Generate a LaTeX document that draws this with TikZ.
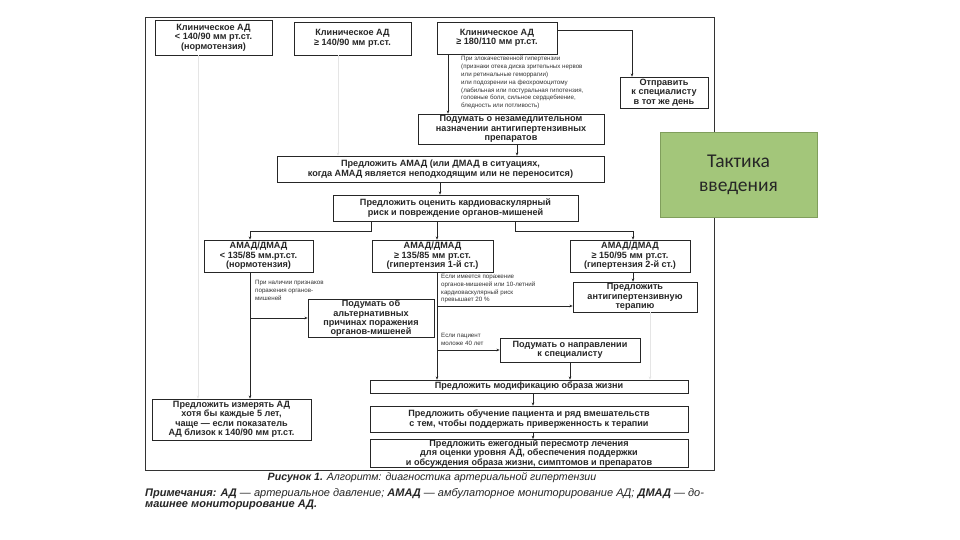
\documentclass[tikz,border=0pt]{standalone}
\usepackage{fontspec}
\setmainfont{Liberation Sans}
\newfontfamily\carlito{Carlito}
\usetikzlibrary{arrows.meta}
\definecolor{gfill}{RGB}{163,198,122}
\definecolor{gdraw}{RGB}{128,158,92}
\begin{document}
\begin{tikzpicture}[x=1pt,y=-1pt,
 box/.style={draw=black!85, line width=0.6pt, inner sep=0.5pt, align=center,
   font=\fontsize{9.1}{9.4}\selectfont\bfseries, text=black!85},
 note/.style={inner sep=0pt, align=left, anchor=north west,
   font=\fontsize{6.2}{7.8}\selectfont, text=black!80},
 arr/.style={draw=black!85, line width=0.6pt, -{Stealth[length=3.2pt,width=2.6pt]}},
 faint/.style={arr, draw=black!10},
 ln/.style={draw=black!85, line width=0.6pt}]
\useasboundingbox (0,0) rectangle (960,540);
\fill[white] (0,0) rectangle (960,540);
\draw[line width=0.8pt, black!80] (145,17) rectangle (714,470);

% top row
\node[box,minimum width=117pt,minimum height=35pt] (b1) at (213.5,37.5)
  {Клиническое АД\\< 140/90 мм рт.ст.\\(нормотензия)};
\node[box,minimum width=117pt,minimum height=33pt] (b2) at (352.5,38.5)
  {Клиническое АД\\≥ 140/90 мм рт.ст.};
\node[box,minimum width=120pt,minimum height=32pt] (b3) at (497,38)
  {Клиническое АД\\≥ 180/110 мм рт.ст.};
\node[box,minimum width=88pt,minimum height=31pt] (bsame) at (664,92.5)
  {Отправить\\к специалисту\\в тот же день};
\node[box,minimum width=186pt,minimum height=30pt] (bimm) at (511,129)
  {Подумать о незамедлительном\\назначении антигипертензивных\\препаратов};
\node[box,minimum width=327pt,minimum height=26pt] (bamad) at (440.5,169)
  {Предложить АМАД (или ДМАД в ситуациях,\\когда АМАД является неподходящим или не переносится)};
\node[box,minimum width=245pt,minimum height=26pt] (bcv) at (455.5,208)
  {Предложить оценить кардиоваскулярный\\риск и повреждение органов-мишеней};

% ABPM row
\node[box,minimum width=109pt,minimum height=32pt] (bn) at (258.5,256)
  {АМАД/ДМАД\\< 135/85 мм.рт.ст.\\(нормотензия)};
\node[box,minimum width=121pt,minimum height=32pt] (bh1) at (432.5,256)
  {АМАД/ДМАД\\≥ 135/85 мм рт.ст.\\(гипертензия 1-й ст.)};
\node[box,minimum width=120pt,minimum height=32pt] (bh2) at (630,256)
  {АМАД/ДМАД\\≥ 150/95 мм рт.ст.\\(гипертензия 2-й ст.)};

\node[box,minimum width=126pt,minimum height=38pt] (balt) at (371,318.5)
  {Подумать об\\альтернативных\\причинах поражения\\органов-мишеней};
\node[box,minimum width=124pt,minimum height=30pt] (btx) at (635,297)
  {Предложить\\антигипертензивную\\терапию};
\node[box,minimum width=140pt,minimum height=24pt] (bspec) at (570,350)
  {Подумать о направлении\\к специалисту};

% bottom
\node[box,minimum width=318pt,minimum height=13pt] (blife) at (529,386.5)
  {Предложить модификацию образа жизни};
\node[box,minimum width=318pt,minimum height=26pt] (bedu) at (529,419)
  {Предложить обучение пациента и ряд вмешательств\\с тем, чтобы поддержать приверженность к терапии};
\node[box,minimum width=318pt,minimum height=28pt] (bann) at (529,453.5)
  {Предложить ежегодный пересмотр лечения\\для оценки уровня АД, обеспечения поддержки\\и обсуждения образа жизни, симптомов и препаратов};
\node[box,minimum width=159pt,minimum height=41pt] (bmeas) at (231.5,419.5)
  {Предложить измерять АД\\хотя бы каждые 5 лет,\\чаще — если показатель\\АД близок к 140/90 мм рт.ст.};

% notes
\node[note] (n1) at (461,56) {При злокачественной гипертензии\\(признаки отека диска зрительных нервов\\или ретинальные геморрагии)\\или подозрении на феохромоцитому\\(лабильная или постуральная гипотензия,\\головные боли, сильное сердцебиение,\\бледность или потливость)};
\node[note] (n2) at (255,280) {При наличии признаков\\поражения органов-\\мишеней};
\node[note] (n3) at (441,274) {Если имеется поражение\\органов-мишеней или 10-летний\\кардиоваскулярный риск\\превышает 20 \%};
\node[note] (n4) at (441,333) {Если пациент\\моложе 40 лет};

% connectors
\draw[arr] (b3.east |- 0,30) -| (bsame.north -| 632,0);
\draw[arr] (b3.south -| 448,0) -- (bimm.north -| 448,0);
\draw[faint] (b2.south -| 338,0) -- (bamad.north -| 338,0);
\draw[arr] (bimm.south -| 517,0) -- (bamad.north -| 517,0);
\draw[arr] (bamad.south -| 440,0) -- (bcv.north -| 440,0);
\draw[arr] (bcv.south -| 371,0) -- (371,231) -| (bn.north -| 250,0);
\draw[arr] (bcv.south -| 437,0) -- (bh1.north -| 437,0);
\draw[arr] (bcv.south -| 515,0) -- (515,231) -| (bh2.north -| 633,0);
\draw[arr] (bn.south -| 250,0) -- (bmeas.north -| 250,0);
\coordinate (j1) at (250,318);
\draw[arr] (j1) -- (balt.west |- j1);
\draw[faint] (b1.south -| 198,0) -- (bmeas.north -| 198,0);
\draw[arr] (bh1.south -| 437,0) -- (blife.north -| 437,0);
\coordinate (j2) at (437,306);
\draw[arr] (j2) -- (btx.west |- j2);
\coordinate (j3) at (437,350);
\draw[arr] (j3) -- (bspec.west |- j3);
\draw[arr] (bh2.south -| 633,0) -- (btx.north -| 633,0);
\draw[faint] (btx.south -| 650,0) -- (blife.north -| 650,0);
\draw[arr] (bspec.south) -- (blife.north -| bspec.south);
\draw[arr] (blife.south -| 533,0) -- (bedu.north -| 533,0);
\draw[arr] (bedu.south -| 533,0) -- (bann.north -| 533,0);

% green box
\node[draw=gdraw, fill=gfill, line width=0.8pt, minimum width=157pt, minimum height=85pt,
  font=\carlito\fontsize{19.5}{24}\selectfont, align=center, text=black!85] (tac) at (738.5,174.5)
  {Тактика\\введения};

% caption
\node[font=\fontsize{10.6}{12}\selectfont\itshape, text=black!85] (cap) at (432,478)
  {\textbf{Рисунок 1.} Алгоритм: диагностика артериальной гипертензии};
\node[anchor=north west, inner sep=0pt, align=left, font=\fontsize{11}{11.5}\selectfont\itshape, text=black!85] (notes) at (145,488)
  {\textbf{Примечания:} \textbf{АД} — артериальное давление; \textbf{АМАД} — амбулаторное мониторирование АД; \textbf{ДМАД} — до-\\\textbf{машнее мониторирование АД.}};
\end{tikzpicture}
\end{document}
